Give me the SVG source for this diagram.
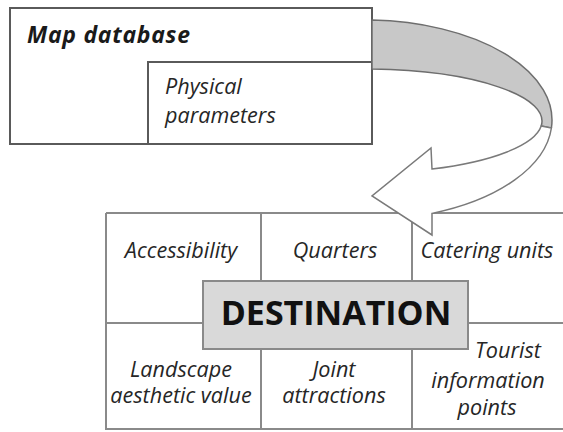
<svg xmlns="http://www.w3.org/2000/svg" width="563" height="432" viewBox="0 0 563 432">
<style>
.box{fill:#fff;stroke:#5a5a5a;stroke-width:2}
.grid{stroke:#8a8a8a;stroke-width:2;fill:none}
.t{font-family:"Open Sans","Noto Sans","Liberation Sans",sans-serif;font-style:italic;font-size:21.6px;fill:#262626}
.tc{text-anchor:middle}
.title{font-family:"Open Sans","Noto Sans","Liberation Sans",sans-serif;font-style:italic;font-weight:bold;font-size:23px;fill:#1a1a1a}
.dest{font-family:"Open Sans","Noto Sans","Liberation Sans",sans-serif;font-weight:bold;font-size:34px;fill:#111;text-anchor:middle}
</style>
<rect width="563" height="432" fill="#fff"/>
<g id="map-database">
<rect class="box" x="10" y="8" width="362" height="136"/>
<text class="title" x="27" y="43" textLength="163">Map database</text>
</g>
<g id="physical-parameters">
<rect class="box" x="148" y="62" width="224" height="82"/>
<text class="t" x="165" y="94">Physical</text>
<text class="t" x="165" y="123">parameters</text>
</g>
<g id="destination-grid">
<path class="grid" d="M106,213 H563 M106,213 V429 H563 M106,323 H563 M261,213 V429 M412,213 V429"/>
<text class="t tc" x="181" y="258">Accessibility</text>
<text class="t tc" x="335" y="258">Quarters</text>
<text class="t tc" x="487" y="258">Catering units</text>
<text class="t tc" x="181" y="377">Landscape</text>
<text class="t tc" x="181" y="403">aesthetic value</text>
<text class="t tc" x="334" y="377">Joint</text>
<text class="t tc" x="334" y="403">attractions</text>
<text class="t tc" x="508" y="358">Tourist</text>
<text class="t tc" x="488" y="388">information</text>
<text class="t tc" x="487" y="415">points</text>
</g>
<g id="destination">
<rect x="203" y="281" width="265" height="68" fill="#d9d9d9" stroke="#8a8a8a" stroke-width="2"/>
<text class="dest" x="336" y="325">DESTINATION</text>
</g>
<g id="connectors">
<path d="M372,20.1 A187,100 0 0 1 551.4,128 L541.2,126 A177,52 0 0 0 372,69.1 Z" fill="#c8c8c8" stroke="#6e6e6e" stroke-width="1.5" stroke-linejoin="round"/>
<path d="M541.2,126 L551.4,128 A187,100 0 0 1 432,213.4 L432,235 L372,196 L431,148 L432,169 A177,52 0 0 0 541.2,126 Z" fill="#fff" stroke="#7a7a7a" stroke-width="1.5" stroke-linejoin="miter"/>
</g>
</svg>
